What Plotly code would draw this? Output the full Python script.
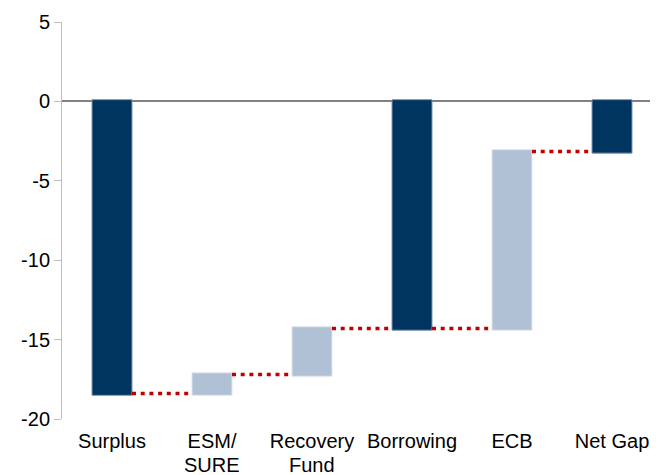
"""Funding gap waterfall: surplus, EU facilities, borrowing, ECB, net gap."""

import plotly.graph_objects as go

# data (% terms)
categories = ["Surplus", "ESM/SURE", "Recovery Fund", "Borrowing", "ECB", "Net Gap"]
label_line1 = ["Surplus", "ESM/", "Recovery", "Borrowing", "ECB", "Net Gap"]
label_line2 = ["", "SURE", "Fund", "", "", ""]
measures = ["relative", "relative", "relative", "total", "relative", "total"]
changes = [-18.4, 1.2, 2.9, 0, 11.15, 0]

y_ticks = [-20, -15, -10, -5, 0, 5]
y_tick_text = ["-20", "-15", "-10", "-5", "0", "5"]

DARK = "#003560"
LIGHT = "#B0C1D6"
RED = "#C00000"
FONT = "Liberation Sans, Arial, sans-serif"

fig = go.Figure(
    go.Waterfall(
        x=categories,
        y=changes,
        measure=measures,
        decreasing=dict(marker=dict(color=DARK, line=dict(color="#7f97b3", width=1))),
        increasing=dict(marker=dict(color=LIGHT, line=dict(color="#dfe6ee", width=1))),
        totals=dict(marker=dict(color=DARK, line=dict(color="#7f97b3", width=1))),
        connector=dict(mode="between", line=dict(color=RED, width=3.5, dash="4px,4.7px")),
        hoverinfo="skip",
    )
)

# second lines of the category labels sit tighter than plotly's 1.3em line height
for cat, text in zip(categories, label_line2):
    if text:
        fig.add_annotation(
            x=cat, xref="x", y=0, yref="paper",
            text=text, showarrow=False,
            yanchor="top", yshift=-33,
            font=dict(size=20, color="black"),
        )

# the page body adds 8px of margin, so the figure is sized to fit inside it
fig.update_layout(
    width=650,
    height=467,
    margin=dict(l=54, r=0, t=13.5, b=55.7),
    plot_bgcolor="white",
    paper_bgcolor="white",
    showlegend=False,
    waterfallgap=0.6,
    font=dict(family=FONT, size=20, color="black"),
)
fig.update_xaxes(
    range=[-0.5, 5.46],
    tickvals=categories,
    ticktext=label_line1,
    showline=False,
    showgrid=False,
    ticks="",
    tickfont=dict(size=20),
    ticklabelstandoff=8,
    automargin=False,
)
fig.update_yaxes(
    range=[-20, 5],
    tickvals=y_ticks,
    ticktext=y_tick_text,
    ticks="outside",
    ticklen=7,
    tickcolor="#bfbfbf",
    showline=True,
    linecolor="#bfbfbf",
    linewidth=1,
    showgrid=False,
    zeroline=True,
    zerolinecolor="#808080",
    zerolinewidth=1.5,
    tickfont=dict(size=20),
    automargin=False,
)

fig.write_html("out.html")
